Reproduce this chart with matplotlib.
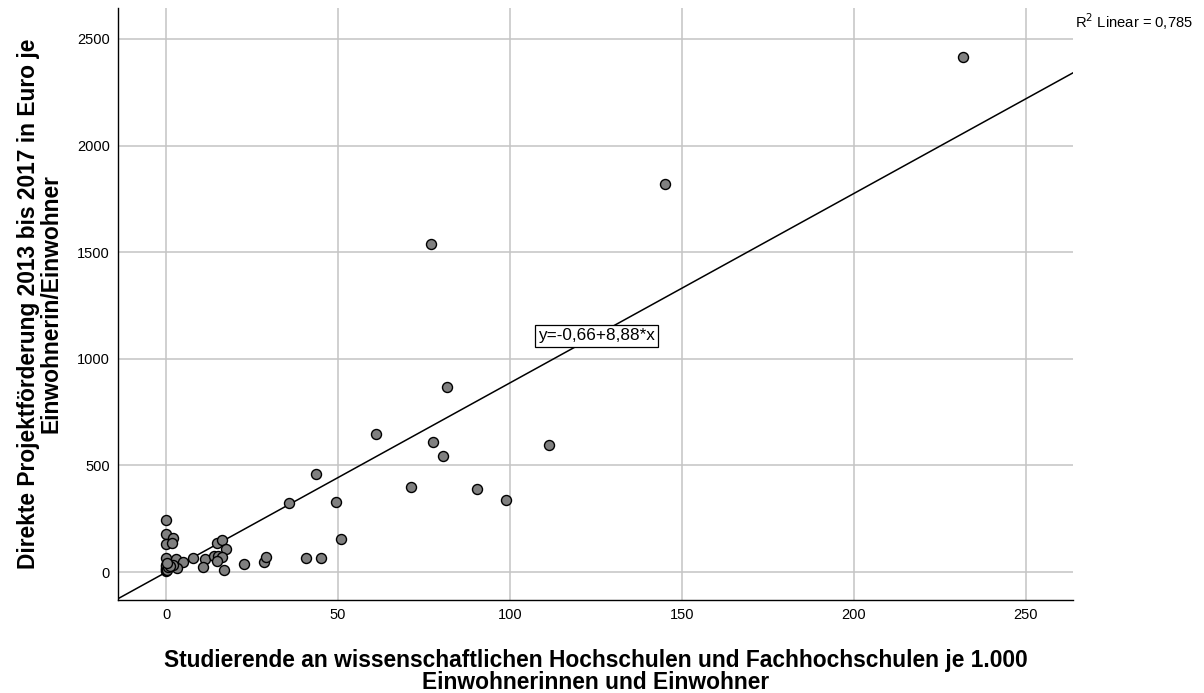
import matplotlib
matplotlib.use("Agg")
import matplotlib.pyplot as plt
import numpy as np

plt.rcParams['font.family'] = ['Liberation Sans', 'DejaVu Sans']

# Data
x_vals = [231.7, 145.0, 77.0, 81.7, 61.0, 77.6, 80.5, 111.3, 43.5, 71.1, 90.4, 98.8,
          35.8, 49.5, 50.8, 40.7, 45.0, 28.5, 29.0, 22.6,
          0.0, 0.0, 2.1, 0.0, 1.6, 14.9, 16.2, 17.3, 0.0, 2.9, 7.9, 11.3, 10.8,
          14.0, 15.0, 16.2, 14.9, 16.7, 5.0, 3.3, 2.1,
          0.0, 0.0, 0.0, 0.0, 0.0, 0.0, 0.3, 0.5, 1.0, 0.2]
y_vals = [2415, 1820, 1540, 866, 648, 608, 544, 598, 462, 401, 389, 336,
          322, 328, 153, 66, 66, 45, 71, 37,
          245, 177, 158, 131, 137, 137, 150, 108, 67, 62, 67, 62, 25,
          75, 77, 72, 52, 11, 45, 20, 33,
          3, 8, 14, 20, 27, 35, 12, 22, 30, 42]

intercept = -0.66
slope = 8.88
r2_text = "R$^2$ Linear = 0,785"
eq_text = "y=-0,66+8,88*x"

xticks = [0, 50, 100, 150, 200, 250]
yticks = [0, 500, 1000, 1500, 2000, 2500]

fig = plt.figure(figsize=(12.04, 6.93), dpi=100)
ax = fig.add_axes([118/1204, 93/693, (1073-118)/1204, (600-8)/693])

ax.set_xlim(-14, 263.7)
ax.set_ylim(-131, 2645)
ax.set_xticks(xticks)
ax.set_yticks(yticks)
ax.grid(True, color='#c4c4c4', linewidth=1.1)
ax.set_axisbelow(True)
for s in ['top', 'right']:
    ax.spines[s].set_visible(False)
for s in ['left', 'bottom']:
    ax.spines[s].set_linewidth(1.0)
    ax.spines[s].set_color('black')
ax.tick_params(length=0, labelsize=10.5, pad=6)

xl = np.array(ax.get_xlim())
ax.plot(xl, intercept + slope * xl, color='black', linewidth=1.1, zorder=2)

ax.scatter(x_vals, y_vals, s=52, facecolor='#808080', edgecolor='black',
           linewidth=1.0, zorder=3)

ax.text(125.1, 1107, eq_text, fontsize=12.3, ha='center', va='center', zorder=4,
        bbox=dict(boxstyle='square,pad=0.18', facecolor='white',
                  edgecolor='black', linewidth=0.9))

fig.text(1075/1204, 1 - 22/693, r2_text, fontsize=10.6, ha='left', va='center')

ax.set_xlabel("Studierende an wissenschaftlichen Hochschulen und Fachhochschulen je 1.000\nEinwohnerinnen und Einwohner",
              fontsize=16.4, fontweight='bold', labelpad=19, linespacing=0.95)
ax.set_ylabel("Direkte Projektförderung 2013 bis 2017 in Euro je\nEinwohnerin/Einwohner",
              fontsize=16.4, fontweight='bold', labelpad=10, linespacing=1.0)

fig.savefig("out.png", dpi=100)
